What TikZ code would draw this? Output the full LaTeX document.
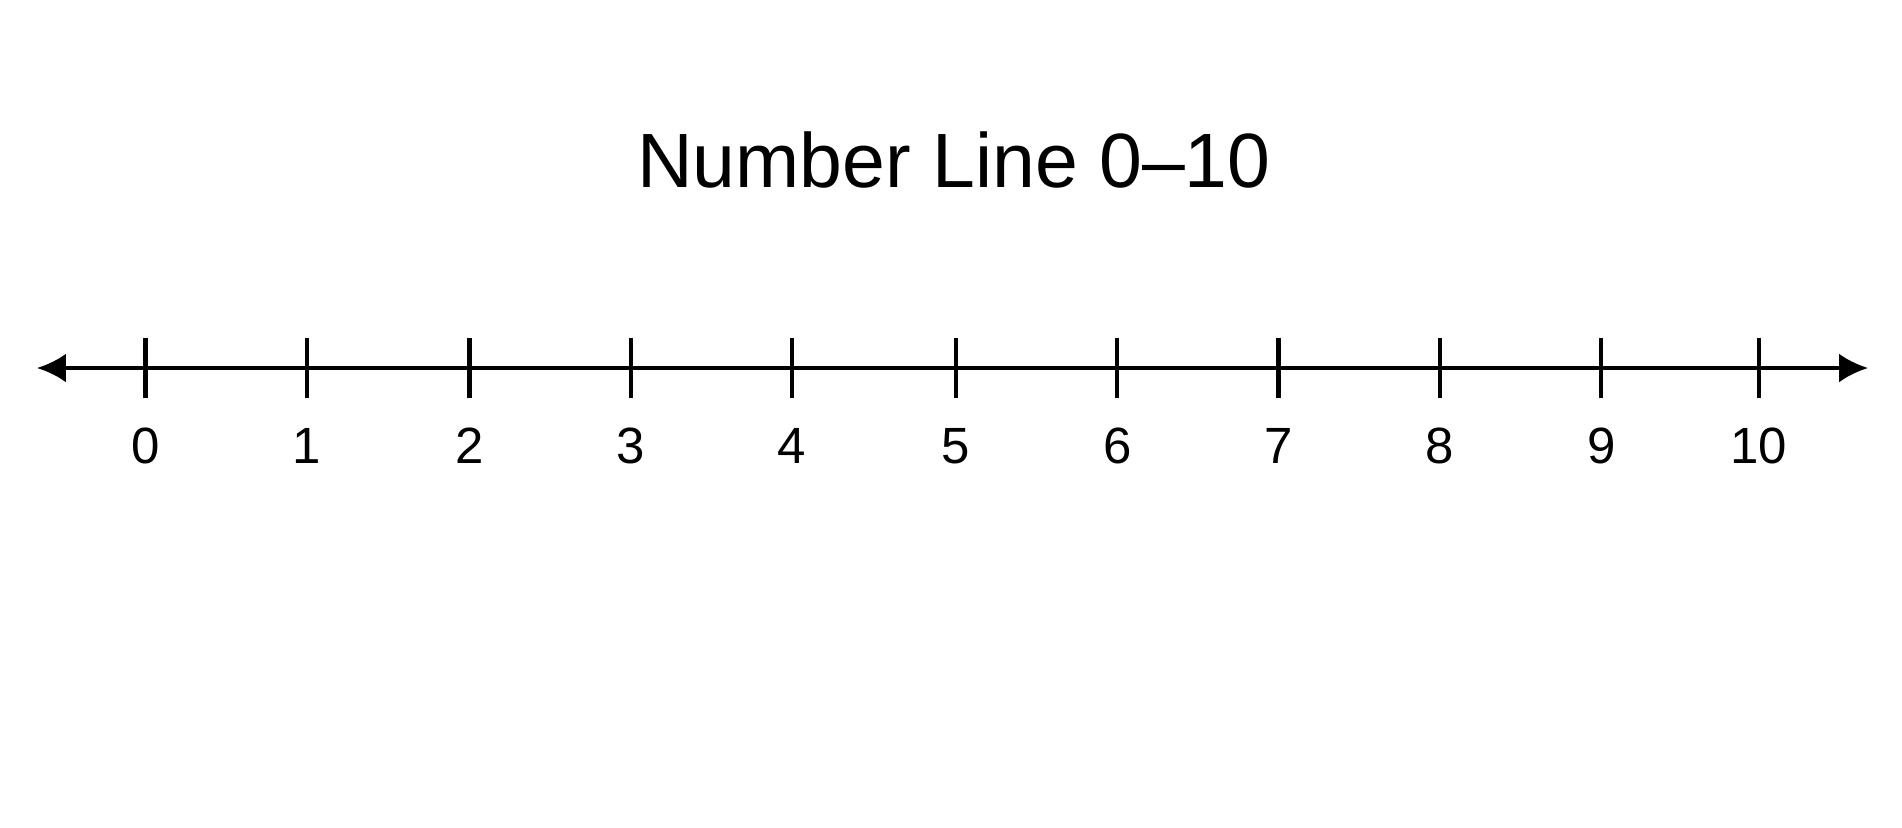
\documentclass[tikz,border=0pt]{standalone}
\usepackage{fontspec}
\setmainfont{Liberation Sans}
\usetikzlibrary{arrows.meta}
\begin{document}
\begin{tikzpicture}[tick/.style = {line width = 1.2pt}, num/.style = {font = \fontsize{14.5}{16}\selectfont}]
			\useasboundingbox (0,0) rectangle (19.02,8.27);
			\node[anchor = base, font = \fontsize{21.9}{26}\selectfont] (title) at (9.54,6.40) {Number Line 0--10};
			
			\coordinate (left) at (0.37,4.59);
			\coordinate (right) at (18.68,4.59);
			\draw[{Latex[length = 0.29cm, width = 0.29cm]}-{Latex[length = 0.29cm, width = 0.29cm]}, line width = 1.1pt] (left) -- (right);
			
			\draw[tick] (1.456,4.29) -- (1.456,4.89);
			\draw[tick] (3.069,4.29) -- (3.069,4.89);
			\draw[tick] (4.694,4.29) -- (4.694,4.89);
			\draw[tick] (6.308,4.29) -- (6.308,4.89);
			\draw[tick] (7.921,4.29) -- (7.921,4.89);
			\draw[tick] (9.558,4.29) -- (9.558,4.89);
			\draw[tick] (11.172,4.29) -- (11.172,4.89);
			\draw[tick] (12.785,4.29) -- (12.785,4.89);
			\draw[tick] (14.398,4.29) -- (14.398,4.89);
			\draw[tick] (16.012,4.29) -- (16.012,4.89);
			\draw[tick] (17.589,4.29) -- (17.589,4.89);
			
			\node[num] (n0) at (1.456,3.81) {0};
			\node[num] (n1) at (3.069,3.81) {1};
			\node[num] (n2) at (4.694,3.81) {2};
			\node[num] (n3) at (6.308,3.81) {3};
			\node[num] (n4) at (7.921,3.81) {4};
			\node[num] (n5) at (9.558,3.81) {5};
			\node[num] (n6) at (11.172,3.81) {6};
			\node[num] (n7) at (12.785,3.81) {7};
			\node[num] (n8) at (14.398,3.81) {8};
			\node[num] (n9) at (16.012,3.81) {9};
			\node[num] (n10) at (17.589,3.81) {10};
		\end{tikzpicture}
\end{document}
